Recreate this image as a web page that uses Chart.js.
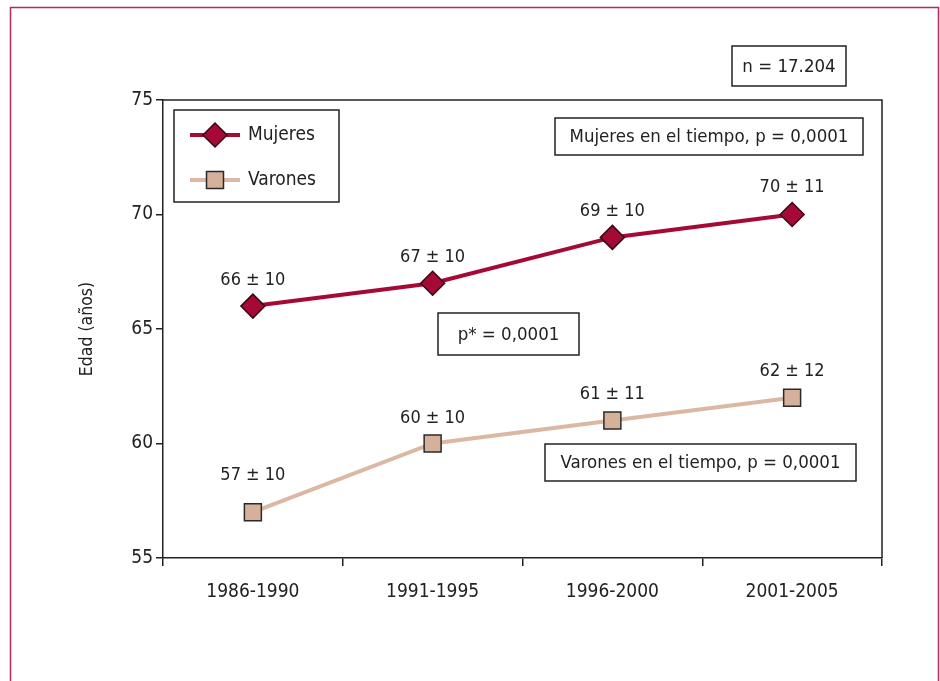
<!DOCTYPE html>
<html lang="es">
<head>
  <meta charset="UTF-8">
  <title>Edad por periodo</title>
  <script src="https://cdn.jsdelivr.net/npm/chart.js"></script>
  <style>
    body { margin: 0; background: #fff; }
    canvas { display: block; }
  </style>
</head>
<body>
  <canvas id="edadChart" width="940" height="681"></canvas>

  <script>
    const categories = ['1986-1990', '1991-1995', '1996-2000', '2001-2005'];
    const mujeresMean = [66, 67, 69, 70];
    const mujeresSd = [10, 10, 10, 11];
    const varonesMean = [57, 60, 61, 62];
    const varonesSd = [10, 10, 11, 12];
    const yTicks = [55, 60, 65, 70, 75];

    const FONT = "'Liberation Sans Narrow', 'DejaVu Sans Condensed', 'Arial Narrow', sans-serif";
    const INK = '#222';

    // page frame, plot box, legend, value labels and the text boxes
    const decor = {
      id: 'decor',
      beforeDraw(chart) {
        const c = chart.ctx;
        c.save();
        c.strokeStyle = '#b82a55';
        c.lineWidth = 1.5;
        c.strokeRect(10.5, 7.5, 928, 700);
        c.restore();
      },
      afterDraw(chart) {
        const c = chart.ctx;
        const a = chart.chartArea;
        c.save();
        c.strokeStyle = INK;
        c.lineWidth = 1.5;
        c.beginPath();
        c.moveTo(a.left, a.top);
        c.lineTo(a.right, a.top);
        c.lineTo(a.right, a.bottom);
        c.stroke();

        // value labels
        const sds = [mujeresSd, varonesSd];
        const lift = [[26, 26, 26, 27], [37, 25, 26, 26]];
        c.font = '18px ' + FONT;
        c.fillStyle = INK;
        c.textAlign = 'center';
        c.textBaseline = 'middle';
        chart.data.datasets.forEach((ds, d) => {
          chart.getDatasetMeta(d).data.forEach((pt, i) => {
            c.fillText(ds.data[i] + ' \u00b1 ' + sds[d][i], pt.x, pt.y - lift[d][i]);
          });
        });

        // legend
        c.font = '19px ' + FONT;
        c.lineWidth = 1.5;
        c.strokeStyle = INK;
        c.strokeRect(174, 110, 165, 92);
        c.textAlign = 'left';
        chart.data.datasets.forEach((ds, d) => {
          const y = 135 + d * 45;
          c.strokeStyle = ds.borderColor;
          c.lineWidth = ds.borderWidth;
          c.beginPath();
          c.moveTo(190, y);
          c.lineTo(240, y);
          c.stroke();
          c.fillStyle = ds.pointBackgroundColor;
          c.strokeStyle = ds.pointBorderColor;
          c.lineWidth = ds.pointBorderWidth;
          Chart.helpers.drawPoint(c, { pointStyle: ds.pointStyle, radius: ds.pointRadius, borderWidth: ds.pointBorderWidth }, 215, y);
          c.fillStyle = INK;
          c.fillText(ds.label, 248, y);
        });

        // text boxes
        const boxes = [
          { text: 'n = 17.204', x: 732, y: 46, w: 114, h: 40 },
          { text: 'Mujeres en el tiempo, p = 0,0001', x: 555, y: 118, w: 308, h: 37 },
          { text: 'p* = 0,0001', x: 438, y: 313, w: 141, h: 42 },
          { text: 'Varones en el tiempo, p = 0,0001', x: 545, y: 444, w: 311, h: 37 }
        ];
        c.font = '18.5px ' + FONT;
        c.textAlign = 'center';
        c.lineWidth = 1.5;
        boxes.forEach(b => {
          c.fillStyle = '#fff';
          c.fillRect(b.x, b.y, b.w, b.h);
          c.strokeStyle = INK;
          c.strokeRect(b.x, b.y, b.w, b.h);
          c.fillStyle = INK;
          c.fillText(b.text, b.x + b.w / 2, b.y + b.h / 2 + 1);
        });
        c.restore();
      }
    };

    new Chart(document.getElementById('edadChart'), {
      type: 'line',
      data: {
        labels: categories,
        datasets: [
          {
            label: 'Mujeres',
            data: mujeresMean,
            borderColor: '#a50a36',
            borderWidth: 4,
            pointStyle: 'rectRot',
            pointRadius: 12,
            pointBackgroundColor: '#a50a36',
            pointBorderColor: '#3a0812',
            pointBorderWidth: 1.5,
            tension: 0
          },
          {
            label: 'Varones',
            data: varonesMean,
            borderColor: '#dbb8a4',
            borderWidth: 4,
            pointStyle: 'rect',
            pointRadius: 12,
            pointBackgroundColor: '#d5b19b',
            pointBorderColor: '#2a2a2a',
            pointBorderWidth: 1.5,
            tension: 0
          }
        ]
      },
      options: {
        responsive: false,
        animation: false,
        layout: { padding: { left: 0, top: 100, right: 58, bottom: 0 } },
        plugins: {
          legend: { display: false },
          tooltip: { enabled: false }
        },
        scales: {
          x: {
            offset: true,
            grid: { offset: true, drawOnChartArea: false, drawTicks: true, tickLength: 8, color: INK, lineWidth: 1.5 },
            border: { display: true, color: INK, width: 1.5 },
            ticks: { color: INK, font: { family: FONT, size: 19 }, padding: 15 },
            afterFit(s) { s.height = 123; }
          },
          y: {
            min: 55,
            max: 75,
            afterBuildTicks(s) { s.ticks = yTicks.map(v => ({ value: v })); },
            grid: { drawOnChartArea: false, drawTicks: true, tickLength: 7, color: INK, lineWidth: 1.5 },
            border: { display: true, color: INK, width: 1.5 },
            ticks: { color: INK, font: { family: FONT, size: 19 }, padding: 3 },
            title: {
              display: true,
              text: 'Edad (años)',
              color: INK,
              font: { family: FONT, size: 17.5 },
              padding: { top: 77, bottom: 0 }
            },
            afterFit(s) { s.width = 163; }
          }
        }
      },
      plugins: [decor]
    });
  </script>
</body>
</html>
